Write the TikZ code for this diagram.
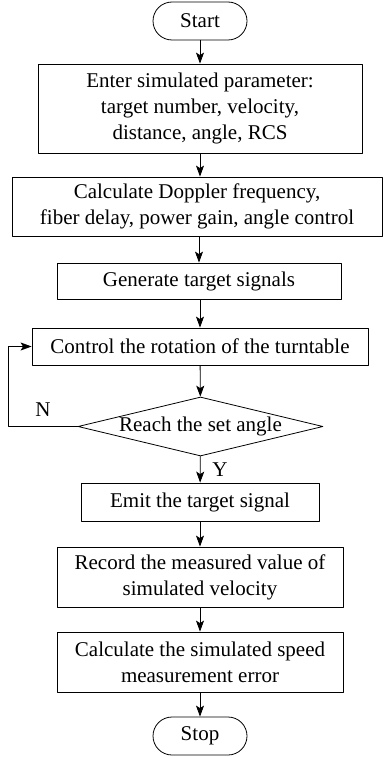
\documentclass[tikz,border=0pt]{standalone}
\usepackage{fontspec}
\setmainfont{Liberation Serif}
\usetikzlibrary{shapes.geometric,arrows.meta}

\tikzset{
  flowtext/.style={font=\fontsize{21}{26}\selectfont,align=center,inner sep=0pt},
  procbox/.style={flowtext,draw,line width=0.8pt},
  termbox/.style={procbox,rounded corners=19pt,minimum width=94,minimum height=38},
  decbox/.style={flowtext,draw,line width=0.8pt,diamond,aspect=1},
  flowarrow/.style={line width=0.8pt,-{Stealth[length=11pt,width=8pt,inset=2.5pt]}}
}

\begin{document}
\begin{tikzpicture}[x=1pt,y=-1pt,line cap=round,line join=round]
  \useasboundingbox (0,0) rectangle (384,757);

  % Terminals, steps and the one decision, top to bottom.
  \node[termbox] (start) at (200,21) {Start};
  \node[procbox,minimum width=324,minimum height=89] (enter) at (200,108.5)
   {Enter simulated parameter:\\target number, velocity,\\distance, angle, RCS};
  \node[procbox,minimum width=370,minimum height=59] (calc) at (197,206.5)
   {Calculate Doppler frequency,\\fiber delay, power gain, angle control};
  \node[procbox,minimum width=284,minimum height=36] (gen) at (199,281)
   {Generate target signals};
  \node[procbox,minimum width=336,minimum height=37] (ctrl) at (200,346.5)
   {Control the rotation of the turntable};
  \node[decbox,minimum width=245,minimum height=59] (reach) at (200.5,426.5)
   {\makebox[0pt]{Reach the set angle}};
  \node[procbox,minimum width=238,minimum height=38] (emit) at (200,502)
   {Emit the target signal};
  \node[procbox,minimum width=286,minimum height=60] (rec) at (200,577)
   {Record the measured value of\\simulated velocity};
  \node[procbox,minimum width=286,minimum height=60] (err) at (200,662)
   {Calculate the simulated speed\\measurement error};
  \node[termbox] (stop) at (200,736) {Stop};

  % Main flow.
  \draw[flowarrow] (start) -- (enter);
  \draw[flowarrow] (enter) -- (calc.north -| enter.south);
  \draw[flowarrow] (calc.south -| gen.north) -- (gen);
  \draw[flowarrow] (gen.south -| ctrl.north) -- (ctrl);
  \draw[flowarrow] (ctrl) -- (reach);
  \draw[flowarrow] (reach) -- (emit);
  \draw[flowarrow] (emit) -- (rec);
  \draw[flowarrow] (rec) -- (err);
  \draw[flowarrow] (err) -- (stop);

  % The "not yet" loop back to the turntable.
  \coordinate (back) at (8,426.5);
  \draw[flowarrow] (reach.west) -- (back) |- (ctrl.west);

  \node[flowtext] (nlabel) at (43,410) {N};
  \node[flowtext] (ylabel) at (220,470) {Y};
\end{tikzpicture}
\end{document}
